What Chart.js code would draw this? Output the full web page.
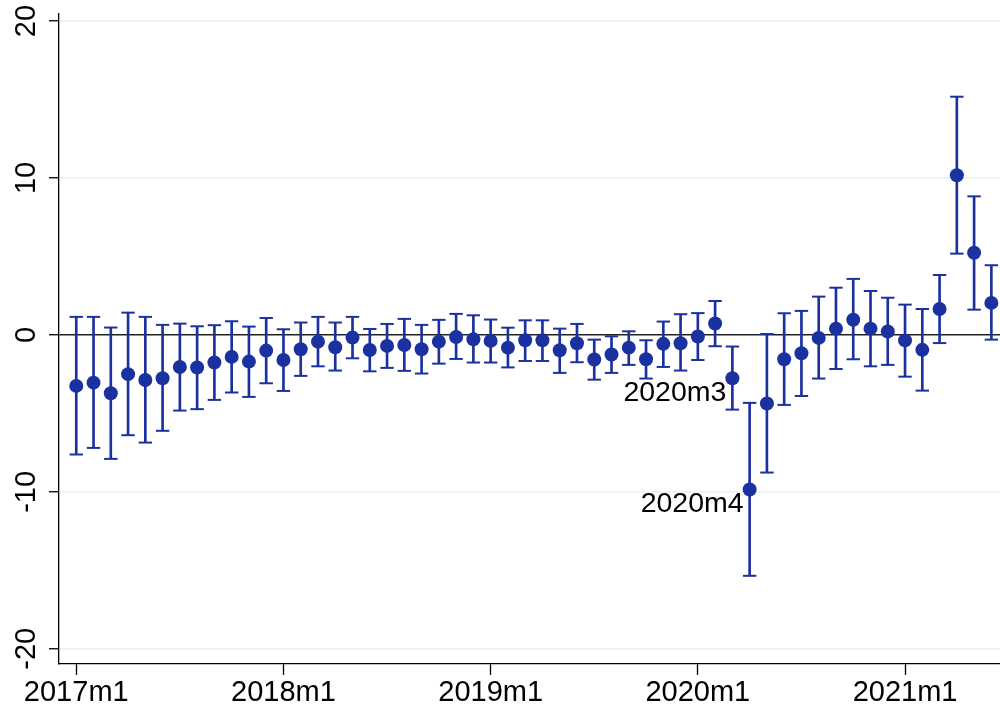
<!DOCTYPE html>
<html>
<head>
<meta charset="utf-8">
<title>Monthly estimates with confidence intervals</title>
<script src="https://cdn.jsdelivr.net/npm/chart.js@4/dist/chart.umd.min.js"></script>
<style>
  html, body { margin: 0; padding: 0; background: #ffffff; }
  #wrap { width: 1000px; height: 710px; }
  canvas { display: block; }
</style>
</head>
<body>
<div id="wrap"><canvas id="chart" width="1000" height="710"></canvas></div>
<script>
// Months on the horizontal axis (index 0 = 2017m1)
const months = [
  '2017m1','2017m2','2017m3','2017m4','2017m5','2017m6','2017m7','2017m8','2017m9','2017m10','2017m11','2017m12',
  '2018m1','2018m2','2018m3','2018m4','2018m5','2018m6','2018m7','2018m8','2018m9','2018m10','2018m11','2018m12',
  '2019m1','2019m2','2019m3','2019m4','2019m5','2019m6','2019m7','2019m8','2019m9','2019m10','2019m11','2019m12',
  '2020m1','2020m2','2020m3','2020m4','2020m5','2020m6','2020m7','2020m8','2020m9','2020m10','2020m11','2020m12',
  '2021m1','2021m2','2021m3','2021m4','2021m5','2021m6'
];

// Point estimates
const estimate = [
  -3.25, -3.04, -3.72, -2.50, -2.87, -2.76, -2.04, -2.08, -1.76, -1.40, -1.70, -1.00,
  -1.60, -0.91, -0.43, -0.79, -0.17, -0.96, -0.70, -0.64, -0.91, -0.43, -0.13, -0.28,
  -0.38, -0.81, -0.34, -0.34, -0.98, -0.53, -1.57, -1.25, -0.81, -1.55, -0.57, -0.53,
  -0.10,  0.73, -2.76, -9.85, -4.37, -1.55, -1.17, -0.19,  0.40,  0.97,  0.40,  0.22,
  -0.35, -0.95,  1.65, 10.17,  5.24,  2.04
];

// Lower bound of the confidence interval
const lower = [
  -7.62, -7.20, -7.90, -6.39, -6.86, -6.11, -4.82, -4.73, -4.14, -3.67, -3.95, -3.08,
  -3.57, -2.61, -2.00, -2.27, -1.49, -2.32, -2.10, -2.29, -2.46, -1.83, -1.53, -1.76,
  -1.76, -2.07, -1.66, -1.66, -2.42, -1.74, -2.85, -2.42, -1.91, -2.78, -2.04, -2.27,
  -1.60, -0.72, -4.76, -15.35, -8.77, -4.46, -3.89, -2.78, -2.17, -1.55, -2.00, -1.91,
  -2.66, -3.55, -0.52,  5.18,  1.61, -0.30
];

// Upper bound of the confidence interval
const upper = [
   1.15,  1.15,  0.47,  1.42,  1.15,  0.64,  0.72,  0.55,  0.62,  0.87,  0.53,  1.08,
   0.36,  0.79,  1.15,  0.79,  1.15,  0.38,  0.70,  1.02,  0.64,  0.96,  1.34,  1.25,
   0.98,  0.46,  0.93,  0.93,  0.40,  0.70, -0.30, -0.09,  0.23, -0.34,  0.85,  1.32,
   1.39,  2.16, -0.74, -4.33,  0.06,  1.38,  1.53,  2.44,  3.01,  3.57,  2.80,  2.37,
   1.93,  1.65,  3.82, 15.18,  8.83,  4.44
];

// Axis ticks
const yTicks = [-20, -10, 0, 10, 20];
const xTickMonths = ['2017m1', '2018m1', '2019m1', '2020m1', '2021m1'];

// Months whose points carry a text label
const labelledMonths = ['2020m3', '2020m4'];

const BLUE = '#1b31a0';
const FONT = '"Liberation Sans", Arial, Helvetica, sans-serif';
Chart.defaults.font.family = FONT;

const idx = months.map((m, i) => i);

// Writes the month name to the lower left of selected points
const monthLabels = {
  id: 'monthLabels',
  afterDatasetsDraw(chart) {
    const { ctx, scales: { x, y } } = chart;
    ctx.save();
    ctx.font = '28.5px ' + FONT;
    ctx.fillStyle = '#000000';
    ctx.textAlign = 'right';
    ctx.textBaseline = 'middle';
    labelledMonths.forEach(m => {
      const i = months.indexOf(m);
      const px = x.getPixelForValue(i);
      const py = y.getPixelForValue(estimate[i]);
      ctx.fillText(m, px - 6, py + 15);
    });
    ctx.restore();
  }
};

new Chart(document.getElementById('chart'), {
  type: 'scatter',
  data: {
    datasets: [
      {
        label: 'estimate',
        data: idx.map(i => ({ x: i, y: estimate[i] })),
        pointRadius: 7,
        pointBackgroundColor: BLUE,
        pointBorderWidth: 0,
        order: 0
      },
      {
        label: 'upper',
        data: idx.map(i => ({ x: i, y: upper[i] })),
        pointStyle: 'line',
        pointRadius: 6.7,
        pointBorderWidth: 2,
        pointBorderColor: BLUE,
        order: 1
      },
      {
        label: 'lower',
        data: idx.map(i => ({ x: i, y: lower[i] })),
        pointStyle: 'line',
        pointRadius: 6.7,
        pointBorderWidth: 2,
        pointBorderColor: BLUE,
        order: 1
      },
      {
        type: 'bar',
        label: 'interval',
        data: idx.map(i => ({ x: i, y: [lower[i], upper[i]] })),
        backgroundColor: BLUE,
        borderWidth: 0,
        barThickness: 2,
        grouped: false,
        order: 2
      }
    ]
  },
  options: {
    responsive: false,
    animation: false,
    events: [],
    devicePixelRatio: 1,
    layout: { autoPadding: false, padding: { top: 14, right: 0, bottom: 0, left: 0 } },
    plugins: {
      legend: { display: false },
      tooltip: { enabled: false }
    },
    scales: {
      x: {
        type: 'linear',
        min: -1,
        max: 53.5,
        offset: false,
        afterBuildTicks(scale) {
          scale.ticks = xTickMonths.map(m => ({ value: months.indexOf(m) }));
        },
        afterFit(scale) {
          scale.height = 46;
          scale.paddingLeft = 0;
          scale.paddingRight = 0;
        },
        border: { display: true, color: '#000000', width: 1.3 },
        grid: {
          display: true,
          offset: false,
          drawOnChartArea: false,
          drawTicks: true,
          tickLength: 11,
          tickColor: '#000000',
          tickWidth: 1.3
        },
        ticks: {
          autoSkip: false,
          maxRotation: 0,
          minRotation: 0,
          padding: 1,
          color: '#000000',
          font: { size: 29 },
          callback: v => months[v]
        }
      },
      y: {
        type: 'linear',
        min: -20.97,
        max: 20.45,
        afterBuildTicks(scale) {
          scale.ticks = yTicks.map(v => ({ value: v }));
        },
        afterFit(scale) {
          scale.width = 59;
          scale.paddingTop = 0;
          scale.paddingBottom = 0;
        },
        border: { display: true, color: '#000000', width: 1.3 },
        grid: {
          display: true,
          drawOnChartArea: true,
          drawTicks: true,
          tickLength: 10,
          tickColor: '#000000',
          tickWidth: 1.3,
          color: ctx => (ctx.tick && ctx.tick.value === 0) ? '#222222' : '#e8f0f2',
          lineWidth: 1.5
        },
        ticks: {
          autoSkip: false,
          minRotation: 90,
          maxRotation: 90,
          crossAlign: 'center',
          padding: 1,
          color: '#000000',
          font: { size: 29 }
        }
      }
    }
  },
  plugins: [monthLabels]
});
</script>
</body>
</html>
